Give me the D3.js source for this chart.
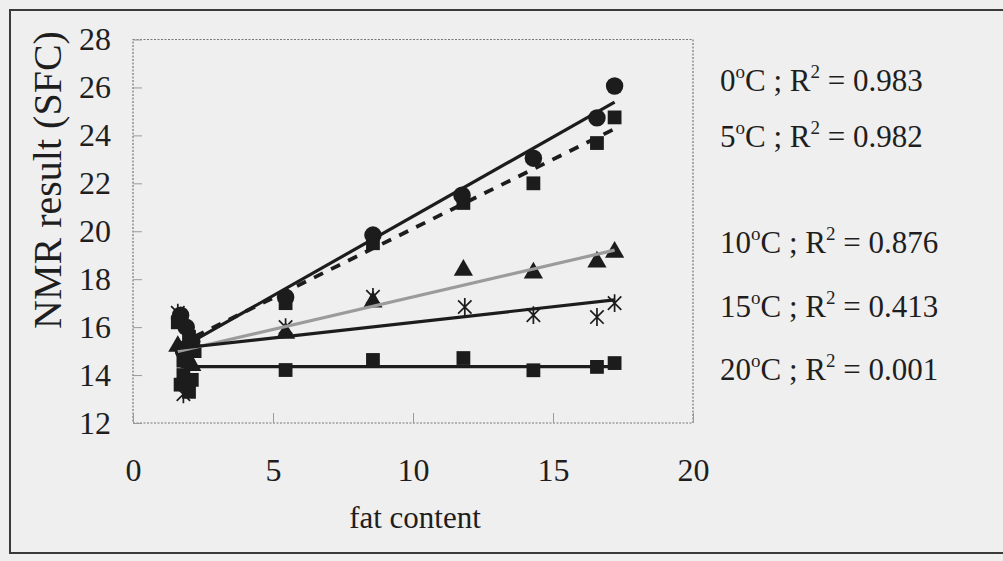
<!DOCTYPE html>
<html>
<head>
<meta charset="utf-8">
<script src="https://cdn.jsdelivr.net/npm/d3@7"></script>
<style>
  body { margin: 0; background: #efefef; }
  svg text { font-family: "Liberation Serif", "Times New Roman", serif; fill: #1e1e1e; }
  .tick line { stroke: #9a9a9a; }
</style>
</head>
<body>
<div id="container"></div>
<script>
// temperatures and R2 of each trend line
const temps = ['0', '5', '10', '15', '20'];
const r2 = ['0.983', '0.982', '0.876', '0.413', '0.001'];

// fat content / NMR result per temperature
const fat0 = [1.7, 1.9, 2.1, 1.8, 5.45, 8.57, 11.75, 14.3, 16.57, 17.2];
const nmr0 = [16.5, 16.0, 15.4, 15.0, 17.25, 19.84, 21.5, 23.05, 24.73, 26.06];
const fat5 = [1.6, 2.0, 2.2, 1.8, 5.45, 8.57, 11.8, 14.3, 16.57, 17.2];
const nmr5 = [16.2, 15.6, 15.0, 14.6, 17.0, 19.5, 21.18, 22.0, 23.68, 24.75];
const fat10 = [1.6, 1.9, 2.1, 5.45, 8.57, 11.8, 14.3, 16.57, 17.2];
const nmr10 = [15.2, 14.8, 14.4, 15.75, 17.05, 18.38, 18.26, 18.72, 19.13];
const fat15 = [1.6, 1.9, 1.8, 5.45, 8.57, 11.85, 14.3, 16.57, 17.2];
const nmr15 = [16.6, 14.9, 13.2, 16.0, 17.26, 16.84, 16.5, 16.42, 17.0];
const fat20 = [1.8, 2.1, 2.0, 1.7, 5.45, 8.57, 11.8, 14.3, 16.57, 17.2];
const nmr20 = [14.0, 13.8, 13.3, 13.6, 14.21, 14.63, 14.71, 14.2, 14.34, 14.5];

// trend lines: y = intercept + slope * x
const slopes = [0.662, 0.578, 0.271, 0.130, 0.0];
const intercepts = [14.0, 14.33, 14.55, 14.9, 14.35];

const xTicks = [0, 5, 10, 15, 20];
const yTicks = [12, 14, 16, 18, 20, 22, 24, 26, 28];

const W = 1003, H = 561;
const svg = d3.select('#container').append('svg')
  .attr('width', W)
  .attr('height', H);

svg.append('rect').attr('width', W).attr('height', H).attr('fill', '#efefef');

// outer frame of the scanned page
svg.append('path')
  .attr('d', `M${W},10 H10 V553 H${W}`)
  .attr('fill', 'none')
  .attr('stroke', '#3a3a3a')
  .attr('stroke-width', 2);

const x = d3.scaleLinear().domain([0, 20]).range([133, 693]);
const y = d3.scaleLinear().domain([12, 28]).range([423, 39.5]);

// dotted plot box
svg.append('rect')
  .attr('x', x(0)).attr('y', y(28))
  .attr('width', x(20) - x(0)).attr('height', y(12) - y(28))
  .attr('fill', 'none')
  .attr('stroke', '#777')
  .attr('stroke-width', 1.2)
  .attr('stroke-dasharray', '2,1.5');

const yAxis = svg.append('g')
  .attr('transform', `translate(${x(0)},0)`)
  .call(d3.axisLeft(y).tickValues(yTicks).tickSize(-9).tickPadding(22));
yAxis.select('.domain').remove();
yAxis.selectAll('text').attr('font-size', 32).attr('fill', '#1e1e1e');

const xAxis = svg.append('g')
  .attr('transform', `translate(0,${y(12)})`)
  .call(d3.axisBottom(x).tickValues(xTicks).tickSize(-10).tickPadding(35));
xAxis.select('.domain').remove();
xAxis.selectAll('text').attr('font-size', 32).attr('fill', '#1e1e1e');

svg.append('text')
  .attr('x', 415).attr('y', 528)
  .attr('text-anchor', 'middle')
  .attr('font-size', 31)
  .text('fat content');

svg.append('text')
  .attr('transform', 'translate(61,180) rotate(-90)')
  .attr('text-anchor', 'middle')
  .attr('font-size', 40)
  .text('NMR result (SFC)');

// markers
const ink = '#1c1c1c';
const star = {
  draw(ctx, size) {
    const r = Math.sqrt(size) / 2;
    const d = r * 0.75;
    ctx.moveTo(0, -r); ctx.lineTo(0, r);
    ctx.moveTo(-d, -d); ctx.lineTo(d, d);
    ctx.moveTo(-d, d); ctx.lineTo(d, -d);
  }
};

const series = [
  { xs: fat0, ys: nmr0, sym: d3.symbolCircle, size: 240, line: ink, dash: null },
  { xs: fat5, ys: nmr5, sym: d3.symbolSquare, size: 190, line: ink, dash: '10,9' },
  { xs: fat10, ys: nmr10, sym: d3.symbolTriangle, size: 160, line: '#9b9b9b', dash: null },
  { xs: fat15, ys: nmr15, sym: star, size: 320, line: ink, dash: null },
  { xs: fat20, ys: nmr20, sym: d3.symbolSquare, size: 190, line: ink, dash: null }
];

series.forEach((s) => {
  const pts = s.xs.map((v, i) => [v, s.ys[i]]);
  const g = svg.append('g');
  g.selectAll('path')
    .data(pts)
    .enter()
    .append('path')
    .attr('transform', (p) => `translate(${x(p[0])},${y(p[1])})`)
    .attr('d', d3.symbol().type(s.sym).size(s.size))
    .attr('fill', s.sym === star ? 'none' : ink)
    .attr('stroke', ink)
    .attr('stroke-width', s.sym === star ? 1.7 : 0);
});

// trend lines drawn on top of the markers
series.forEach((s, i) => {
  const ext = d3.extent(s.xs);
  const fit = ext.map((v) => [v, intercepts[i] + slopes[i] * v]);
  svg.append('path')
    .datum(fit)
    .attr('d', d3.line().x((p) => x(p[0])).y((p) => y(p[1])))
    .attr('fill', 'none')
    .attr('stroke', s.line)
    .attr('stroke-width', s.dash ? 3.8 : 3.2)
    .attr('stroke-dasharray', s.dash);
});

// legend labels
const legendY = [91, 147, 253, 317, 380];
temps.forEach((t, i) => {
  const txt = svg.append('text')
    .attr('x', 720).attr('y', legendY[i])
    .attr('font-size', 31);
  txt.append('tspan').text(t);
  txt.append('tspan').attr('font-size', 19).attr('dy', -13).text('o');
  txt.append('tspan').attr('dy', 13).text('C ; R');
  txt.append('tspan').attr('font-size', 19).attr('dy', -13).text('2');
  txt.append('tspan').attr('dy', 13).text(' = ' + r2[i]);
});
</script>
</body>
</html>
